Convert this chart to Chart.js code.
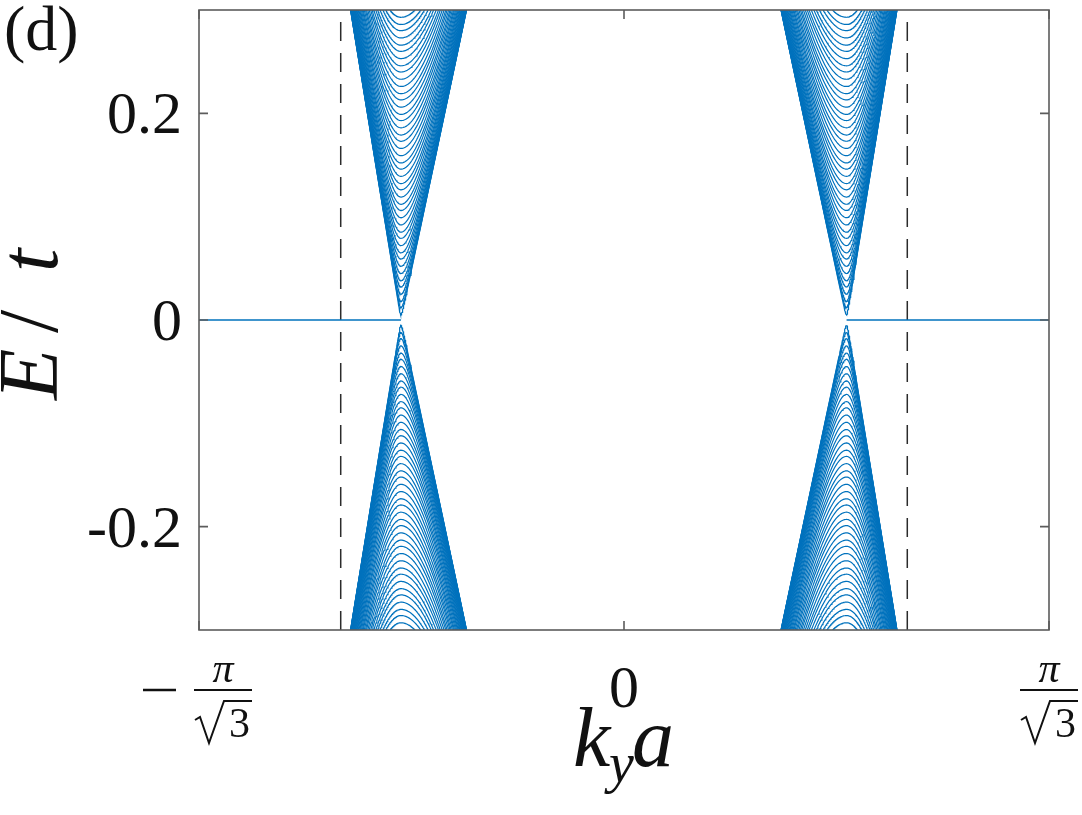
<!DOCTYPE html>
<html>
<head>
<meta charset="utf-8">
<script src="https://cdn.jsdelivr.net/npm/chart.js@4.4.0/dist/chart.umd.min.js"></script>
<style>
  html, body { margin: 0; padding: 0; background: #fff; }
</style>
</head>
<body>
<canvas id="bandChart" width="1082" height="815"></canvas>
<script>
// === Dados ===
const K_EDGE = Math.PI / Math.sqrt(3);          // limite do eixo k_y a
const xTicks = [-K_EDGE, 0, K_EDGE];
const yTicks = [-0.2, 0, 0.2];
const yTickLabels = ['-0.2', '0', '0.2'];
const yRange = [-0.3, 0.3];

const dashedK = [-1.209, 1.209];                // linhas tracejadas verticais
const diracK = [-0.952, 0.950];                 // pontos de Dirac (esq., dir.)
const outerSlope = 1.395;                       // dE/dk do lado externo do cone
const innerSlope = 1.071;                       // dE/dk do lado interno do cone

// mínimos das sub-bandas (E/t) lidos no centro do cone
const bandMinE = [
  0.005, 0.012, 0.018, 0.025, 0.032, 0.038, 0.045, 0.052, 0.059, 0.065,
  0.072, 0.079, 0.085, 0.092, 0.099, 0.106, 0.112, 0.119, 0.126, 0.132,
  0.139, 0.146, 0.152, 0.159, 0.166, 0.173, 0.179, 0.186, 0.193, 0.199,
  0.206, 0.213, 0.219, 0.226, 0.233, 0.240, 0.246, 0.253, 0.260, 0.266,
  0.273, 0.280, 0.286, 0.293
];

const BLUE = '#0072BD';
const AXIS = '#5c5c5c';
const SERIF = '"Liberation Serif", "DejaVu Serif", serif';

// === Montagem das curvas ===
function bandCurve(k0, gap, outerDir, sign) {
    // ramo hiperbólico: E^2 = gap^2 + (v dk)^2, lado externo/interno com velocidades lidas
    const tMax = Math.acosh(Math.abs(yRange[1]) / gap);
    const steps = 40;
    const pts = [];
    for (let i = steps; i >= -steps; i--) {
        const t = tMax * i / steps;
        const side = t < 0 ? -1 : 1;       // -1 = lado externo
        const v = side < 0 ? outerSlope : innerSlope;
        const dk = gap * Math.sinh(Math.abs(t)) / v;
        const dir = side < 0 ? outerDir : -outerDir;
        pts.push({ x: k0 + dir * dk, y: sign * gap * Math.cosh(t) });
    }
    pts.sort((a, b) => a.x - b.x);
    return pts;
}

const datasets = [];
diracK.forEach((k0, idx) => {
    const outerDir = idx === 0 ? -1 : 1;
    [1, -1].forEach(sign => {
        bandMinE.forEach(gap => {
            datasets.push({
                data: bandCurve(k0, gap, outerDir, sign),
                borderColor: BLUE,
                borderWidth: 1.2,
                pointRadius: 0,
                showLine: true,
                tension: 0
            });
        });
    });
});

// banda de borda plana
datasets.push({ data: [{ x: -K_EDGE, y: 0 }, { x: diracK[0], y: 0 }], borderColor: BLUE, borderWidth: 1.4, pointRadius: 0, showLine: true });
datasets.push({ data: [{ x: diracK[1], y: 0 }, { x: K_EDGE, y: 0 }], borderColor: BLUE, borderWidth: 1.4, pointRadius: 0, showLine: true });

// linhas tracejadas
dashedK.forEach(k => {
    datasets.push({
        data: [{ x: k, y: yRange[0] }, { x: k, y: yRange[1] }],
        borderColor: '#2b2b2b',
        borderWidth: 1.5,
        borderDash: [19, 12],
        pointRadius: 0,
        showLine: true
    });
});

// === Eixos estilo MATLAB ===
function drawFraction(ctx, cx, barY, negative) {
    ctx.save();
    ctx.fillStyle = '#111';
    ctx.strokeStyle = '#111';
    ctx.textAlign = 'center';
    ctx.textBaseline = 'alphabetic';
    ctx.font = `italic 42px ${SERIF}`;
    ctx.fillText('π', cx, barY - 8);
    ctx.lineWidth = 2.2;
    ctx.beginPath();
    ctx.moveTo(cx - 29, barY);
    ctx.lineTo(cx + 29, barY);
    ctx.stroke();
    // raiz de 3
    ctx.font = `42px ${SERIF}`;
    ctx.textAlign = 'left';
    ctx.fillText('3', cx + 6, barY + 47);
    ctx.lineWidth = 2;
    ctx.beginPath();
    ctx.moveTo(cx - 28, barY + 30);
    ctx.lineTo(cx - 23, barY + 27);
    ctx.lineTo(cx - 14, barY + 53);
    ctx.lineTo(cx + 1, barY + 11);
    ctx.lineTo(cx + 29, barY + 11);
    ctx.stroke();
    if (negative) {
        ctx.lineWidth = 2.4;
        ctx.beginPath();
        ctx.moveTo(cx - 80, barY);
        ctx.lineTo(cx - 47, barY);
        ctx.stroke();
    }
    ctx.restore();
}

// escreve glifos com posições de início fixas (imitando o espaçamento do LaTeX)
function drawGlyphs(ctx, parts) {
    parts.forEach(p => {
        ctx.font = p.font;
        ctx.fillText(p.text, p.x, p.y);
    });
}

const axesPlugin = {
    id: 'matlabAxes',
    afterDraw(chart) {
        const { ctx, chartArea: a, scales } = chart;
        const xs = scales.x, ys = scales.y;
        ctx.save();
        ctx.strokeStyle = AXIS;
        ctx.lineWidth = 1.6;
        ctx.strokeRect(a.left, a.top, a.right - a.left, a.bottom - a.top);
        const tick = 9;
        ctx.beginPath();
        yTicks.forEach(v => {
            const y = ys.getPixelForValue(v);
            ctx.moveTo(a.left, y); ctx.lineTo(a.left + tick, y);
            ctx.moveTo(a.right, y); ctx.lineTo(a.right - tick, y);
        });
        xTicks.forEach(v => {
            const x = xs.getPixelForValue(v);
            ctx.moveTo(x, a.bottom); ctx.lineTo(x, a.bottom - tick);
            ctx.moveTo(x, a.top); ctx.lineTo(x, a.top + tick);
        });
        ctx.stroke();

        // rótulos do eixo y
        ctx.fillStyle = '#111';
        ctx.font = `60px ${SERIF}`;
        ctx.textAlign = 'right';
        ctx.textBaseline = 'alphabetic';
        yTicks.forEach((v, i) => {
            ctx.fillText(yTickLabels[i], a.left - 17, ys.getPixelForValue(v) + 20);
        });

        // rótulos do eixo x
        ctx.textAlign = 'center';
        ctx.fillText('0', xs.getPixelForValue(0), a.bottom + 77);
        drawFraction(ctx, xs.getPixelForValue(xTicks[0]) + 24, a.bottom + 60, true);
        drawFraction(ctx, xs.getPixelForValue(xTicks[2]), a.bottom + 60, false);

        // título do eixo x: k_y a
        ctx.textAlign = 'left';
        const big = `italic 84px ${SERIF}`;
        const sub = `italic 56px ${SERIF}`;
        drawGlyphs(ctx, [
            { text: 'k', x: 573, y: 766, font: big },
            { text: 'y', x: 609, y: 782, font: sub },
            { text: 'a', x: 632, y: 766, font: big }
        ]);

        // título do eixo y: E/t (girado)
        ctx.save();
        ctx.translate(57, 0);
        ctx.rotate(-Math.PI / 2);
        // no sistema girado, x = -y da tela
        drawGlyphs(ctx, [
            { text: 'E', x: -400, y: 0, font: `italic 84px ${SERIF}` },
            { text: '/', x: -333, y: 0, font: `84px ${SERIF}` },
            { text: 't', x: -272, y: 0, font: `italic 84px ${SERIF}` }
        ]);
        ctx.restore();

        // painel
        ctx.font = `64px ${SERIF}`;
        ctx.textAlign = 'left';
        ctx.fillText('(d)', 4, 50);
        ctx.restore();
    }
};

new Chart(document.getElementById('bandChart'), {
    type: 'scatter',
    data: { datasets },
    options: {
        responsive: false,
        animation: false,
        events: [],
        layout: { padding: { left: 199, right: 33, top: 10, bottom: 185 } },
        plugins: { legend: { display: false }, tooltip: { enabled: false } },
        scales: {
            x: { type: 'linear', display: false, min: -K_EDGE, max: K_EDGE },
            y: { type: 'linear', display: false, min: yRange[0], max: yRange[1] }
        }
    },
    plugins: [axesPlugin]
});
</script>
</body>
</html>
